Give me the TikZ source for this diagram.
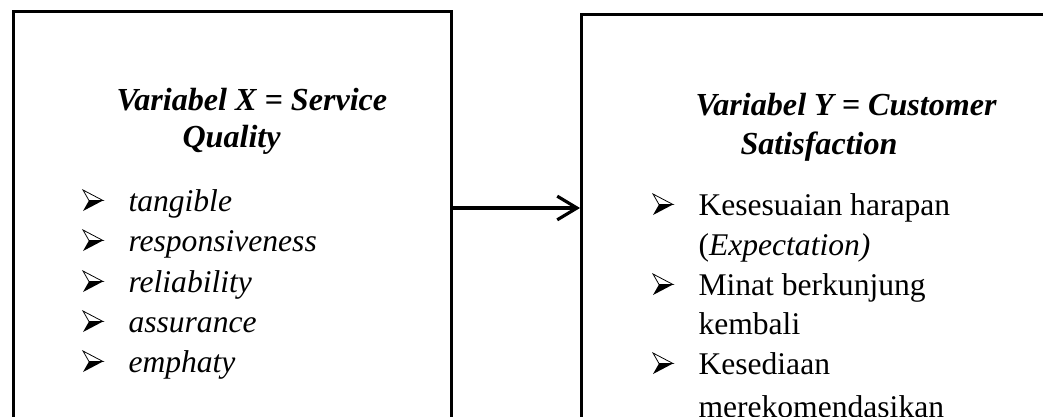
\documentclass[tikz,border=0pt]{standalone}
\usepackage{fontspec}
\setmainfont{Liberation Serif}
\usetikzlibrary{arrows.meta}
\newcommand{\twelve}{\fontsize{12}{14}\selectfont}

\begin{document}
\begin{tikzpicture}[x=0.38pt,y=-0.38pt,>={Straight Barb[length=7.5pt,width=9pt]},
  varbox/.style={draw,line width=1.1pt,inner sep=0,minimum height=228pt},
  head/.style={inner sep=0,anchor=base west,font=\fontsize{12.2}{14}\selectfont\bfseries\itshape},
  item/.style={inner sep=0,anchor=base west,font=\twelve},
  arrbullet/.pic={
    \draw[line width=0.3pt,fill=white] (0,-21) -- (20,-10.5) -- (6,-10.5) -- cycle;
    \fill (0,0) -- (20,-10.5) -- (6,-10.5) -- cycle;
  }]
  \useasboundingbox (0,0) rectangle (1043,416);
  \clip (0,0) rectangle (1043,416);
  \node[varbox,minimum width=166.4pt,anchor=north west] (xbox) at (12,10) {};
  \node[varbox,minimum width=190pt,anchor=north west] (ybox) at (580,13) {};
  \coordinate (mid) at (0,208);
  \draw[->,line width=1.2pt] (xbox.east |- mid) -- (ybox.west |- mid);
  % variabel X
  \node[head] (xhead) at (116,111) {Variabel X = Service};
  \node[head] (xhead2) at (182,147) {Quality};
  \node[item] (tang) at (128,211) {\itshape tangible};
  \node[item] (resp) at (128,251) {\itshape responsiveness};
  \node[item] (reli) at (128,292) {\itshape reliability};
  \node[item] (assu) at (128,332) {\itshape assurance};
  \node[item] (emph) at (128,372) {\itshape emphaty};
  \pic at (83,211) {arrbullet};
  \pic at (83,251) {arrbullet};
  \pic at (83,292) {arrbullet};
  \pic at (83,332) {arrbullet};
  \pic at (83,372) {arrbullet};
  % variabel Y
  \node[head] (yhead) at (695,115) {Variabel Y = Customer};
  \node[head] (yhead2) at (740,154) {Satisfaction};
  \node[item] (kes) at (698,215) {Kesesuaian harapan};
  \node[item] (expe) at (698,255) {(\textit{Expectation)}};
  \node[item] (mina) at (698,295) {Minat berkunjung};
  \node[item] (kemb) at (698,334) {kembali};
  \node[item] (ksd) at (698,374) {Kesediaan};
  \node[item] (mere) at (698,417) {merekomendasikan};
  \pic at (653,215) {arrbullet};
  \pic at (653,295) {arrbullet};
  \pic at (653,374) {arrbullet};
\end{tikzpicture}
\end{document}
